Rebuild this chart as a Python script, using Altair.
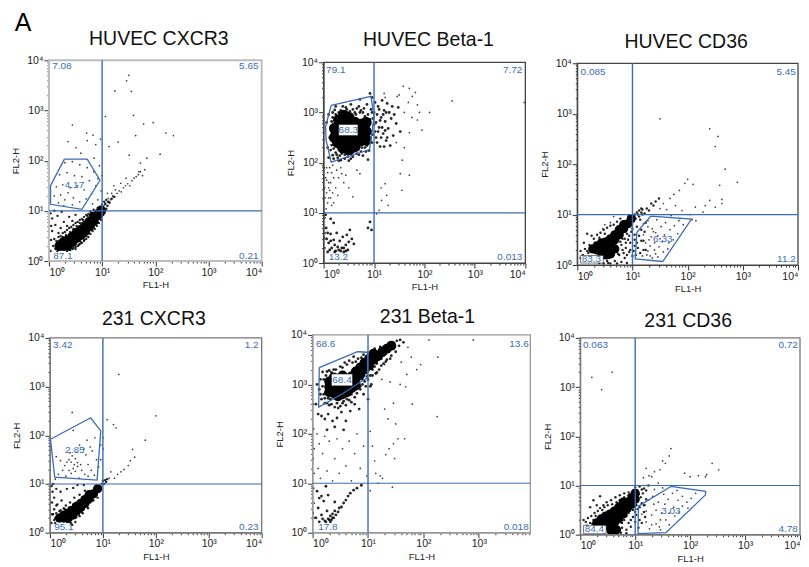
import altair as alt
import pandas as pd

FONT = "Liberation Sans"
BLUE = "#3a6bb8"
TITLES = ["HUVEC CXCR3", "HUVEC Beta-1", "HUVEC CD36", "231 CXCR3", "231 Beta-1", "231 CD36"]

# All cloud and gate coordinates: log10(value) x 100.
CORE_1 = [(20,30),(28,30),(28,38),(36,32),(36,42),(44,38),(44,48),(52,46),(52,56),(60,52),(60,62),(68,60),(68,70),(76,70),(76,78),(84,80),(84,88),(92,92),(98,100)]
FRINGE_1 = [(6,12),(10,18),(12,8),(14,26),(16,14),(18,40),(20,16),(24,12),(26,48),(30,18),(32,52),(36,16),(38,22),(40,58),(44,24),(46,64),(50,28),(52,70),(56,32),(58,76),(60,38),(64,82),(66,42),(70,50),(72,90),(74,56),(78,62),(80,96),(84,68),(86,74),(90,78),(94,84),(100,90),(102,108),(104,100),(106,114),(108,104),(110,110),(112,118),(8,30),(10,44),(6,60),(12,72),(18,56),(22,66),(28,78),(34,70),(38,88),(44,80),(50,92),(16,90),(24,98),(6,85),(10,100),(4,42),(3,20),(4,70),(3,95),
    (30,14),(34,20),(40,22),(46,26),(50,24),(54,30),(58,34),(62,36),(66,40),(70,44),(74,48),(78,54),(82,60),(86,64),(90,70),(94,76),(98,82),(102,92),(20,10),(24,18),(16,20),(12,24),(14,40),(18,48),(22,50),(26,56),(30,58),(34,62),(38,66),(42,68),(46,72),(50,76),(54,78),(58,82),(62,84),(66,88),(70,92),(74,94),(78,98),(84,102),(88,100),(92,106),(96,108),(100,112),(104,118),(108,122),(114,116),(118,124),(122,128)]
SPARSE_1 = [(150,370),(146,359),(155,338),(124,339),(159,290),(106,288),(44,271),(178,273),(196,276),(220,255),(234,250),(71,255),(83,251),(97,243),(36,238),(51,226),(113,228),(130,237),(163,250),(151,211),(209,213),(184,205),(172,195),(169,178),(72,240),(88,232),(60,215),(85,205),(95,190),(30,196),(44,198),(58,192),(72,186),(84,178),(92,164),(20,172),(34,176),(48,170),(62,168),(76,160),(88,150),(14,148),(26,152),(40,146),(54,150),(66,142),(80,134),(92,122),(10,130),(22,132),(30,122),(36,136),(46,126),(58,118),(70,124),(82,114),(18,116),(28,110),(44,112),(105,112),(110,118),(112,125),(116,122),(120,130),(124,128),(128,135),(132,140),(136,138),(140,146),(144,150),(148,154),(152,150),(156,160),(160,165),(164,168),(168,172),(172,178),(176,170),(180,182),(125,142),(118,135),(135,155),(145,165),(110,135),(122,150),(98,140),(100,170)]
GATE_1 = [(29,203),(72,203),(96,161),(62,103),(3,113),(3,150),(29,203)]

CORE_2 = [(28,240),(28,256),(28,272),(38,230),(38,246),(38,262),(38,278),(50,226),(50,242),(50,258),(50,274),(50,290),(62,232),(62,248),(62,264),(62,280),(74,244),(74,260),(74,276),(84,262),(40,294),(30,285),(22,250),(22,268),(84,245),(84,280)]
FRINGE_2 = [(12,250),(14,270),(16,235),(18,290),(18,215),(22,305),(24,220),(28,210),(30,300),(34,205),(38,312),(42,208),(46,306),(50,204),(54,316),(58,212),(62,300),(66,218),(70,312),(74,222),(78,300),(82,230),(86,316),(90,240),(92,286),(94,262),(88,206),(96,300),(100,276),(102,320),(104,250),(106,296),(108,312),(110,270),(112,232),(114,290),(116,324),(118,258),(120,304),(122,282),(124,244),(126,318),(128,268),(130,300),(132,234),(134,288),(136,312),(138,254),(140,296),(144,278),(148,310),(152,262),(8,230),(10,210),(6,280),(96,330),(92,338),(72,326),(10,296),
    (14,225),(15,245),(16,262),(16,282),(18,300),(20,228),(20,208),(24,296),(24,312),(26,216),(30,204),(32,214),(34,304),(36,218),(40,300),(42,216),(44,310),(48,212),(52,302),(54,208),(56,218),(58,306),(60,222),(64,296),(66,308),(68,226),(70,216),(72,300),(74,304),(76,230),(78,214),(80,308),(82,292),(84,222),(86,234),(88,296),(90,224),(92,250),(94,306),(96,240),(98,256),(98,288),(100,300),(102,262),(104,280),(106,240),(108,262),(110,306),(112,284),(114,250),(116,270),(118,296),(120,232),(122,264),(124,300),(126,250)]
LOWER_2 = [(5,70),(8,22),(10,40),(12,14),(14,58),(16,30),(18,10),(20,46),(22,22),(24,16),(26,60),(28,32),(30,12),(32,44),(34,24),(36,16),(38,52),(40,30),(42,18),(44,36),(46,56),(48,26),(50,42),(52,66),(56,48),(60,38),(6,48),(14,88),(20,80),(4,96),(88,70),(92,82),(95,66),(18,20),(20,14),(24,24),(26,12),(28,20),(30,26),(32,16),(36,30),(40,22),(44,24),(12,26),(14,44),(8,60),(22,36)]
SPARSE_2 = [(5,108),(8,120),(10,130),(12,145),(14,160),(16,180),(18,195),(6,140),(4,170),(20,120),(24,150),(28,135),(30,170),(34,190),(40,160),(44,175),(50,150),(58,132),(66,185),(72,178),(6,190),(10,160),(16,115),(3,60),(3,30),(3,90),(3,130),(3,10),(2,150),(2,50),(1,100),(1,190),(2,20),(158,352),(170,348),(176,332),(168,320),(182,340),(150,335),(160,300),(146,332),(120,338),(122,330),(190,300),(186,315),(186,285),(170,260),(160,230),(156,205),(144,240),(170,175),(155,145),(122,158),(125,135),(115,125),(110,105),(105,98),(114,150),(128,115),(398,320),(255,323),(195,265),(175,290),(210,300),(152,178),(8,180),(12,190),(20,170),(26,185),(36,178),(10,150),(14,130),(18,140),(6,165)]
GATE_2 = [(15,314),(94,332),(100,291),(91,226),(15,201),(5,245),(4,272),(15,314)]

CORE_3 = [(28,32),(36,30),(36,38),(44,24),(44,34),(44,44),(52,20),(52,34),(52,46),(60,22),(60,40),(60,52),(68,32),(68,50),(68,60),(76,60),(76,70),(84,72),(84,80),(92,82),(98,92)]
FRINGE_3 = [(6,28),(10,20),(14,32),(16,14),(20,24),(22,40),(26,16),(30,12),(32,44),(38,14),(40,54),(44,10),(50,62),(54,8),(58,14),(62,24),(66,20),(72,34),(74,22),(78,46),(82,30),(86,52),(86,14),(90,62),(94,26),(96,44),(100,72),(100,18),(104,38),(104,60),(106,92),(110,100),(112,96),(116,104),(118,110),(122,102),(126,112),(130,108),(134,122),(138,118),(142,126),(148,132),(114,24),(120,48),(124,30),(116,70),(20,6),(34,6),(48,3),(60,3),(72,3),(90,4),(26,58),(18,62),
    (76,20),(80,40),(82,52),(84,24),(88,34),(88,44),(90,20),(92,50),(94,58),(96,30),(98,66),(102,28),(104,50),(106,20),(108,76),(108,44),(110,34),(112,58),(114,90),(116,48),(118,100),(120,30),(122,66),(124,84),(100,96),(104,100),(108,104),(112,108),(116,112),(30,52),(36,60),(42,64),(48,70),(54,74),(60,78),(66,80),(72,86),(78,92),(14,16),(18,28),(24,36),(10,10),(6,14),(12,44),(40,4),(56,4),(68,8),(80,6)]
SPARSE_3 = [(150,290),(240,270),(255,255),(200,170),(210,160),(195,162),(185,148),(175,140),(168,132),(156,122),(162,110),(178,118),(190,108),(150,112),(170,98),(186,92),(204,100),(120,82),(128,88),(136,72),(144,90),(152,76),(160,84),(168,70),(176,78),(184,88),(192,80),(134,56),(142,64),(150,52),(158,60),(166,44),(174,50),(182,62),(124,44),(132,38),(140,30),(148,36),(156,26),(164,32),(118,18),(126,20),(136,14),(146,16),(214,115),(228,105),(232,118),(250,115),(240,128),(262,130),(262,122),(258,158),(290,164),(268,190),(208,90),(215,88),(60,84),(50,80),(66,96),(46,72),(250,235),(128,76),(138,66),(146,58),(154,46),(130,50),(120,60),(128,28),(140,44),(132,18),(142,22)]
GATE_3 = [(133,97),(207,91),(155,7),(105,12),(108,65),(133,97)]

CORE_4 = [(18,30),(26,30),(26,36),(34,30),(34,40),(42,36),(42,46),(50,44),(50,54),(58,52),(58,60),(66,60),(66,68),(74,70),(74,78),(82,80),(90,90)]
FRINGE_4 = [(3,20),(4,38),(4,62),(5,84),(6,14),(8,48),(8,72),(10,20),(12,40),(14,58),(14,16),(18,44),(20,14),(22,66),(26,50),(30,18),(30,56),(36,22),(38,62),(40,26),(44,30),(46,72),(50,32),(54,38),(56,78),(60,42),(64,48),(66,86),(70,54),(76,62),(80,68),(84,74),(88,78),(92,86),(96,94),(98,100),(100,106),(102,100),(104,108),(106,104),(108,110),(20,84),(12,90),(32,90),(3,96),(6,100),(44,92),(52,98),(64,98),
    (10,30),(16,34),(20,46),(24,18),(28,48),(32,22),(36,52),(40,20),(44,58),(48,30),(52,62),(56,34),(60,66),(62,40),(68,72),(72,50),(78,84),(82,66),(86,88),(90,72),(94,92),(22,28),(28,16),(34,14),(42,16),(48,22),(8,26),(6,38),(12,56)]
SPARSE_4 = [(42,247),(130,325),(44,210),(85,195),(100,195),(108,232),(120,222),(125,215),(200,240),(180,190),(156,171),(160,155),(152,148),(148,138),(140,130),(134,125),(128,120),(122,112),(115,125),(112,112),(96,180),(100,172),(96,150),(92,135),(70,190),(76,176),(64,172),(68,160),(72,140),(78,128),(56,180),(48,152),(52,136),(38,164),(32,145),(28,138),(24,128),(20,148),(16,120),(12,156),(36,128),(40,122),(44,132),(48,126),(52,144),(58,140),(60,128),(66,120),(72,116),(84,118),(88,150),(80,168),(10,110),(30,116),(55,112),(40,145),(46,140),(36,150),(50,165),(42,158)]
GATE_4 = [(1,192),(77,236),(96,209),(89,108),(9,114),(1,192)]

CORE_5 = [(30,284),(30,295),(30,306),(38,284),(38,290),(38,302),(38,314),(46,276),(46,288),(46,300),(54,280),(54,292),(54,304),(54,318),(62,284),(62,296),(62,308),(70,292),(70,304),(70,316),(78,298),(78,312),(78,326),(86,320),(86,334),(94,330),(94,344),(102,338),(102,352),(110,350),(110,362),(118,358),(126,366),(134,372),(142,378)]
FRINGE_5 = [(12,290),(14,310),(16,270),(18,325),(20,280),(22,262),(24,318),(28,272),(30,328),(34,260),(38,330),(42,270),(46,252),(50,336),(54,262),(58,344),(62,270),(66,348),(70,280),(74,356),(78,290),(82,300),(86,296),(90,310),(94,306),(98,316),(104,318),(108,330),(112,336),(116,342),(120,350),(124,352),(128,358),(132,362),(138,370),(146,384),(152,388),(156,378),(150,366),(142,358),(132,346),(124,338),(114,322),(106,300),(8,300),(10,240),(16,236),(22,230),(28,240),(36,226),(44,232),(52,244),(60,226),(68,246),(76,260),(84,250),(92,280),(100,270),(6,260),(26,208),(40,214),(56,208),
    (14,280),(18,296),(20,310),(22,272),(24,284),(26,262),(26,326),(30,258),(32,270),(34,324),(36,274),(40,254),(42,330),(44,262),(48,274),(50,256),(52,276),(54,334),(56,266),(58,278),(60,258),(62,340),(64,284),(66,268),(68,282),(70,264),(72,344),(74,290),(76,274),(78,346),(80,282),(82,352),(84,298),(86,290),(88,354),(90,300),(92,360),(96,296),(100,310),(104,296),(106,366),(108,318),(112,372),(116,324),(120,330),(128,342),(134,350),(140,352),(148,376),(158,390),(164,385),(122,376)]
LOWER_5 = [(4,8),(6,30),(8,14),(10,50),(12,22),(14,8),(16,36),(18,16),(20,64),(22,24),(24,12),(26,44),(28,28),(30,18),(32,34),(34,26),(36,38),(38,30),(40,44),(42,36),(46,42),(48,50),(52,52),(56,60),(60,66),(64,74),(68,80),(74,86),(80,90),(88,96),(16,74),(8,84),(12,70),(28,76),(40,62),(24,94),(20,14),(24,22),(26,16),(30,26),(32,22),(36,30),(18,28),(14,20)]
SPARSE_5 = [(3,120),(3,170),(3,60),(3,30),(2,210),(2,90),(1,40),(1,150),(1,260),(8,200),(12,180),(10,130),(14,110),(18,160),(22,195),(26,125),(30,185),(36,105),(40,150),(44,190),(48,120),(54,170),(60,135),(66,185),(70,105),(76,160),(80,200),(86,130),(92,175),(98,115),(104,205),(108,175),(112,145),(114,120),(118,100),(122,115),(126,110),(130,250),(136,230),(146,262),(158,300),(168,295),(172,375),(178,355),(170,320),(188,330),(195,340),(210,390),(226,355),(290,390),(225,235),(150,220),(146,180),(138,170),(132,158),(154,190),(166,190),(144,92),(125,310),(130,340),(140,305),(160,345),(180,260),(104,85),(148,150)]
GATE_5 = [(12,334),(81,366),(99,365),(99,314),(54,281),(11,254),(12,334)]

CORE_6 = [(30,24),(38,22),(38,32),(46,18),(46,28),(46,38),(54,18),(54,30),(54,42),(62,24),(62,36),(62,48),(70,32),(70,44),(70,56),(78,42),(78,54),(78,66),(86,54),(86,66),(94,62),(94,76),(100,72),(100,84),(56,8),(66,10)]
FRINGE_6 = [(8,10),(10,26),(14,34),(16,14),(20,38),(22,22),(26,44),(28,12),(32,48),(36,54),(40,12),(42,60),(48,66),(56,70),(64,76),(72,80),(80,84),(88,86),(96,90),(100,96),(102,60),(104,90),(106,82),(108,98),(112,92),(116,94),(120,90),(124,100),(76,14),(84,10),(88,24),(92,16),(96,36),(100,46),(104,52),(108,30),(112,64),(116,46),(120,72),(74,4),(84,3),(44,3),(60,2),(30,60),(18,56),(24,70),(36,78),
    (76,24),(80,30),(84,38),(88,44),(92,30),(96,50),(100,26),(102,40),(104,68),(106,14),(108,56),(110,76),(112,24),(114,84),(116,60),(118,36),(34,16),(40,50),(44,56),(50,60),(58,62),(66,66),(72,70),(80,76),(88,80),(24,30),(28,38),(18,24),(12,18),(6,30)]
SPARSE_6 = [(21,320),(58,330),(39,295),(165,175),(162,160),(155,145),(150,150),(120,135),(115,116),(125,120),(130,118),(135,128),(145,132),(190,125),(200,118),(215,120),(228,118),(240,145),(252,132),(230,122),(130,40),(138,50),(146,30),(154,62),(162,44),(170,56),(178,70),(186,58),(194,66),(202,74),(130,20),(120,26),(126,12),(138,22),(146,10),(112,42),(118,60),(124,70),(132,78),(142,66),(152,82),(160,72),(168,84),(176,90),(186,78),(196,54),(120,48),(134,62),(148,44),(156,30),(144,16),(162,20),(172,38),(180,46),(210,84),(135,92),(150,95),(120,100),(142,105)]
GATE_6 = [(165,98),(228,88),(228,81),(156,4),(105,2),(106,58),(165,98)]

CORES = [CORE_1, CORE_2, CORE_3, CORE_4, CORE_5, CORE_6]
FRINGES = [FRINGE_1, FRINGE_2 + LOWER_2, FRINGE_3, FRINGE_4, FRINGE_5 + LOWER_5, FRINGE_6]
SPARSES = [SPARSE_1, SPARSE_2, SPARSE_3, SPARSE_4, SPARSE_5, SPARSE_6]
GATES = [GATE_1, GATE_2, GATE_3, GATE_4, GATE_5, GATE_6]
CORE_SIZE = [105, 130, 85, 85, 100, 85]
FRINGE_SIZE = [6, 8, 6, 6, 8, 6]

LEFT_LABELS = [
    [("7.08",6,388),("87.1",8,11)],
    [("79.1",5,385),("13.2",10,12)],
    [("0.085",6,383),("83.3",8,12)],
    [("3.42",6,385),("95.1",8,11)],
    [("68.6",6,381),("17.8",10,12)],
    [("0.063",5,385),("84.4",8,11)],
]
RIGHT_LABELS = [
    [("5.65",394,388),("0.21",394,11)],
    [("7.72",394,385),("0.013",394,12)],
    [("5.45",396,383),("11.2",396,12)],
    [("1.2",394,385),("0.23",394,11)],
    [("13.6",390,381),("0.018",390,12)],
    [("0.72",396,385),("4.78",396,11)],
]
GATE_LABELS = [("4.17",48,152),("68.3",49,265),("6.33",155,52),("2.85",47,170),("68.4",53,309),("3.03",165,48)]
WHITE_BOXES = [None,(30,68,254,276),None,None,(34,72,297,321),None]
CORNER_BOXES = [None,None,(6,47,4,19),None,None,(6,47,2,19)]
# Corner left clear of dots in the reference, around the lower-left percentage
CLEAR_CORNER = [(46,20),(44,21),None,(42,20),(44,21),None]

X_MAX = [4, 4, 4, 4, 3.93, 4]
# pixel geometry of every plot: left, right, top, bottom
GEOM = [(49,262,61,262),(324,526,63,264),(578,799,64,266),(50,262,339,534),(313,531,336,534),(581,801,339,536)]
TITLE_POS = [(159,40),(429,41),(687,43),(154,320),(428,318),(689,322)]
FRAME = ["#bdbdbd","#444444","#444444","#777777","#999999","#777777"]
CELL_X = [48,313,578]
CELL_Y = [61,336]
CELL_W = 224
CELL_H = 205
TICK_BASE = [1,2,3,4,5,6,7,8,9]

def table(pairs):
    return pd.DataFrame({"x":[10**(p[0]/100) for p in pairs],"y":[10**(p[1]/100) for p in pairs]})

def cloud(pairs, i):
    c = CLEAR_CORNER[i]
    if c:
        pairs = [p for p in pairs if not (p[0] < c[0] and p[1] < c[1])]
    return table(pairs)

def panel(i):
    col, row = i % 3, i // 3
    l, r, t, b = GEOM[i]
    cx, cy, H = CELL_X[col], CELL_Y[row], CELL_H
    xmax = 10**X_MAX[i]
    ticks = [v*10**d for d in range(4) for v in TICK_BASE if v*10**d <= xmax] + ([10000] if X_MAX[i] == 4 else [])
    yticks = [v*10**d for d in range(4) for v in TICK_BASE] + [10000]
    major = "indexof([1,10,100,1000,10000],datum.value)>=0"
    lab = "indexof([1,10,100,1000,10000],datum.value)>=0 ? '10' + ['⁰','¹','²','³','⁴'][round(log(datum.value)/LN10)] : ''"
    common = dict(labelFont=FONT, titleFont=FONT, labelFontSize=10.5, titleFontSize=9.5, titleFontWeight="normal",
                  labelColor="#222", titleColor="#222", grid=False, tickColor="#333", domainColor=FRAME[i],
                  labelOverlap=False, labelExpr=lab, tickSize={"condition":{"test":major,"value":5},"value":2})
    xs = alt.Scale(type="log", domain=[1, xmax], range=[l-cx, r-cx], nice=False)
    ys = alt.Scale(type="log", domain=[1, 10000], range=[b-cy, t-cy], nice=False)
    X = alt.X("x:Q", scale=xs, axis=alt.Axis(title="FL1-H", values=ticks, offset=-(H-(b-cy)), titlePadding=2, labelPadding=1, **common))
    Y = alt.Y("y:Q", scale=ys, axis=alt.Axis(title="FL2-H", values=yticks, offset=-(l-cx), titlePadding=6, labelPadding=1, **common))

    layers = [
        alt.Chart(cloud(SPARSES[i], i)).mark_circle(size=3, color="#000", opacity=0.75).encode(x=X, y=Y),
        alt.Chart(cloud(FRINGES[i], i)).mark_circle(size=FRINGE_SIZE[i], color="#000", opacity=0.85).encode(x=X, y=Y),
        alt.Chart(table(CORES[i])).mark_circle(size=CORE_SIZE[i], color="#000", opacity=1).encode(x=X, y=Y),
    ]
    boxes = [bx for bx in (WHITE_BOXES[i], CORNER_BOXES[i]) if bx]
    if boxes:
        df = pd.DataFrame([{"x":10**(q[0]/100),"x2":10**(q[1]/100),"y":10**(q[2]/100),"y2":10**(q[3]/100)} for q in boxes])
        layers.append(alt.Chart(df).mark_rect(color="#fff", stroke="#222", strokeWidth=0.6).encode(x=X, x2="x2:Q", y=Y, y2="y2:Q"))
    fr = pd.DataFrame([{"x":1,"x2":xmax,"y":1,"y2":10000}])
    layers.append(alt.Chart(fr).mark_rect(fillOpacity=0, stroke=FRAME[i], strokeWidth=2 if i == 0 else 1.3).encode(x=X, x2="x2:Q", y=Y, y2="y2:Q"))
    vline = pd.DataFrame([{"x":10,"y":1,"y2":10000}])
    hline = pd.DataFrame([{"y":10,"x":1,"x2":xmax}])
    layers.append(alt.Chart(vline).mark_rule(color=BLUE, strokeWidth=1.4).encode(x=X, y=Y, y2="y2:Q"))
    layers.append(alt.Chart(hline).mark_rule(color=BLUE, strokeWidth=1.2).encode(x=X, x2="x2:Q", y=Y))
    g = table(GATES[i]); g["o"] = range(len(g))
    layers.append(alt.Chart(g).mark_line(color=BLUE, strokeWidth=1.3).encode(x=X, y=Y, order="o:Q"))
    def labels(items, align):
        df = table([(a[1],a[2]) for a in items]); df["t"] = [a[0] for a in items]
        return alt.Chart(df).mark_text(font=FONT, fontSize=10, color=BLUE, align=align, baseline="middle").encode(x=X, y=Y, text="t:N")
    layers.append(labels(LEFT_LABELS[i], "left"))
    layers.append(labels(RIGHT_LABELS[i], "right"))
    layers.append(labels([GATE_LABELS[i]], "center"))
    tx, ty = TITLE_POS[i]
    layers.append(alt.Chart(pd.DataFrame({"t":[TITLES[i]]})).mark_text(font=FONT, fontSize=19.5, color="#111", align="center", baseline="middle").encode(
        x=alt.value(tx-cx), y=alt.value(ty-cy), text="t:N"))
    if i == 0:
        layers.append(alt.Chart(pd.DataFrame({"t":["A"]})).mark_text(font=FONT, fontSize=25, color="#000", align="center", baseline="middle").encode(
            x=alt.value(23-cx), y=alt.value(24-cy), text="t:N"))
    return alt.layer(*layers).properties(width=CELL_W, height=H)

chart = alt.concat(*[panel(i) for i in range(6)], columns=3, spacing={"row":70,"column":41}, bounds="flush").properties(
    padding={"left":2,"top":3,"right":0,"bottom":0}, background="#ffffff").configure_view(stroke=None)
chart.save("out.html", embed_options={"renderer": "svg", "actions": False})
